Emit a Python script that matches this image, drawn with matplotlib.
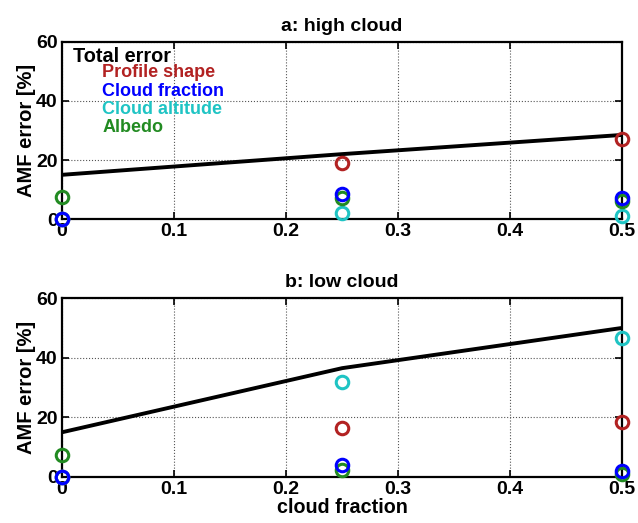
import matplotlib
matplotlib.use("Agg")
import matplotlib.pyplot as plt

plt.rcParams['font.family'] = ['Liberation Sans', 'DejaVu Sans']
plt.rcParams['font.weight'] = 'bold'

cloud_frac = [0.0, 0.25, 0.5]

# panel a: high cloud
high_total = [15.0, 22.0, 28.5]
high_profile = [0.0, 19.0, 27.0]
high_cfrac = [0.0, 8.5, 7.0]
high_calt = [0.0, 2.0, 1.0]
high_albedo = [7.5, 7.0, 6.0]

# panel b: low cloud
low_total = [15.0, 36.5, 50.0]
low_profile = [0.0, 16.5, 18.5]
low_cfrac = [0.0, 4.0, 2.0]
low_calt = [0.0, 32.0, 46.5]
low_albedo = [7.5, 2.5, 1.0]

titles = ['a: high cloud', 'b: low cloud']
xticks = [0, 0.1, 0.2, 0.3, 0.4, 0.5]
xtick_labels = ['0', '0.1', '0.2', '0.3', '0.4', '0.5']
yticks = [0, 20, 40, 60]

legend_labels = ['Total error', 'Profile shape', 'Cloud fraction', 'Cloud altitude', 'Albedo']

c_red = '#b22222'
c_blue = '#0000ff'
c_cyan = '#1fc4c4'
c_green = '#228b22'

fig = plt.figure(figsize=(6.38, 5.23), dpi=100)
ax1 = fig.add_axes([0.0972, 0.581, 0.878, 0.339])
ax2 = fig.add_axes([0.0972, 0.088, 0.878, 0.342])

panels = [
    (ax1, high_total, high_profile, high_cfrac, high_calt, high_albedo),
    (ax2, low_total, low_profile, low_cfrac, low_calt, low_albedo),
]

for i, (ax, tot, prof, cfr, calt, alb) in enumerate(panels):
    ax.plot(cloud_frac, tot, color='black', lw=2.8, zorder=3)
    for vals, col in [(prof, c_red), (calt, c_cyan), (alb, c_green), (cfr, c_blue)]:
        ax.plot(cloud_frac, vals, 'o', mfc='none', mec=col, mew=2.2, ms=9,
                clip_on=False, zorder=4)
    ax.set_xlim(0, 0.5)
    ax.set_ylim(0, 60)
    ax.set_xticks(xticks)
    ax.set_xticklabels(xtick_labels)
    ax.set_yticks(yticks)
    ax.grid(True, linestyle=':', color='#555555', lw=0.8)
    ax.tick_params(direction='in', labelsize=14, length=5, width=1.2, top=True, right=True, pad=3)
    for lab in ax.get_xticklabels() + ax.get_yticklabels():
        lab.set_fontweight('bold')
    for sp in ax.spines.values():
        sp.set_linewidth(1.6)
    ax.set_ylabel('AMF error [%]', fontsize=14.5, fontweight='bold', labelpad=0)
    ax.set_title(titles[i], fontsize=14, fontweight='bold', pad=8)

ax2.set_xlabel('cloud fraction', fontsize=14.2, fontweight='bold', labelpad=0)

legend_colors = ['black', c_red, c_blue, c_cyan, c_green]
legend_x = [0.02, 0.072, 0.072, 0.072, 0.072]
legend_y = [0.887, 0.802, 0.697, 0.595, 0.493]
legend_fs = [14.3, 13, 13, 13, 13]
for txt, col, xx, yy, fs in zip(legend_labels, legend_colors, legend_x, legend_y, legend_fs):
    ax1.text(xx, yy, txt, color=col, fontsize=fs, fontweight='bold',
             transform=ax1.transAxes, va='baseline', ha='left')

fig.savefig('out.png', dpi=100)
